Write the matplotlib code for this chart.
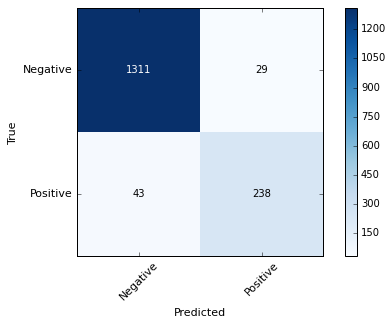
import numpy as np
import matplotlib
matplotlib.use('Agg')
import matplotlib.pyplot as plt

# confusion matrix data
classes = ['Negative', 'Positive']
row_negative = [1311, 29]
row_positive = [43, 238]
cbar_ticks = [150, 300, 450, 600, 750, 900, 1050, 1200]

cm = np.array([row_negative, row_positive])

plt.style.use('classic')
plt.rcParams['font.family'] = 'DejaVu Sans'
FS = 11      # word labels
FS_NUM = 10  # digits

fig = plt.figure(figsize=(386 / 72, 324 / 72), dpi=72, facecolor='white')
ax = fig.add_axes([77 / 386, 68 / 324, 246 / 386, 248 / 324])
cax = fig.add_axes([345 / 386, 68 / 324, 12 / 386, 248 / 324])

im = ax.imshow(cm, interpolation='nearest', cmap=plt.cm.Blues, aspect='auto')
cb = fig.colorbar(im, cax=cax, ticks=cbar_ticks)
cb.ax.tick_params(labelsize=FS_NUM)

ax.set_xticks(np.arange(len(classes)))
ax.set_xticklabels(classes, rotation=45)
ax.set_yticks(np.arange(len(classes)))
ax.set_yticklabels(classes)

# 数字标注
thresh = cm.max() / 2.0
for i in range(cm.shape[0]):
    for j in range(cm.shape[1]):
        ax.text(j, i, cm[i, j], ha='center', va='center', fontsize=FS_NUM,
                color='white' if cm[i, j] > thresh else 'black')

ax.set_ylabel('True', fontsize=FS)
ax.set_xlabel('Predicted', fontsize=FS, labelpad=6)
ax.tick_params(labelsize=FS)

fig.savefig('out.png', dpi=72, facecolor='white')
